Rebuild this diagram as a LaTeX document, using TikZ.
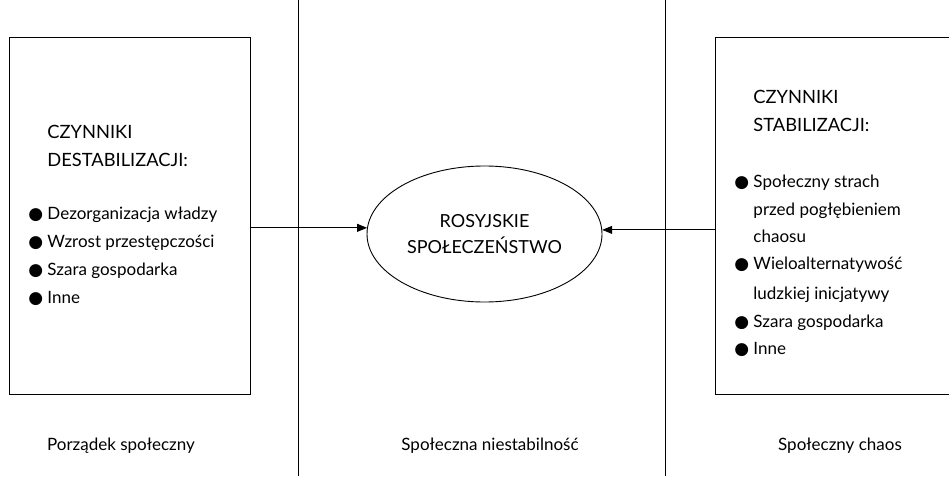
\documentclass[tikz,border=0pt]{standalone}
\usepackage{fontspec}
\setmainfont{Lato}
\newfontfamily\djv{DejaVu Sans}
\usetikzlibrary{shapes.geometric,arrows.meta}
\newcommand\bul{\makebox[19pt][l]{\djv●}}
\newcommand\ind{\hspace*{19pt}}
\begin{document}
\begin{tikzpicture}[x=1pt,y=-1pt,line width=0.9pt,
  txt/.style={font=\fontsize{17}{28}\selectfont, inner sep=0pt, anchor=mid west},
  captxt/.style={txt, font=\fontsize{18.3}{28}\selectfont},
  lbl/.style={font=\fontsize{17}{28}\selectfont, inner sep=0pt, anchor=mid},
  box/.style={draw, minimum height=357pt, anchor=north west, inner sep=0pt},
  arr/.style={-{Triangle[length=10pt,width=8pt]}}]
\useasboundingbox (0,0) rectangle (949,476);
\clip (0,0) rectangle (949,476);
% boxes
\node[box, minimum width=241pt] (lbox) at (9,37) {};
\node[box, minimum width=260pt] (rbox) at (715,37) {};
% vertical separators
\coordinate (v1t) at (298,0); \coordinate (v1b) at (298,476);
\coordinate (v2t) at (665,0); \coordinate (v2b) at (665,476);
\draw (v1t) -- (v1b);
\draw (v2t) -- (v2b);
% ellipse
\node[draw, ellipse, minimum width=235pt, minimum height=136pt, inner sep=0pt,
      align=center, font=\fontsize{18}{26}\selectfont] (ell) at (484.5,234)
      {ROSYJSKIE\\SPOŁECZEŃSTWO};
% left box text
\node[captxt] (l1) at (28,136) {\ind CZYNNIKI};
\node[captxt] (l2) at (28,164) {\ind DESTABILIZACJI:};
\node[txt] (l3) at (28,217) {\bul Dezorganizacja władzy};
\node[txt] (l4) at (28,245) {\bul Wzrost przestępczości};
\node[txt] (l5) at (28,273) {\bul Szara gospodarka};
\node[txt] (l6) at (28,301) {\bul Inne};
% right box text
\node[captxt] (r1) at (734,101) {\ind CZYNNIKI};
\node[captxt] (r2) at (734,129) {\ind STABILIZACJI:};
\node[txt] (r3) at (734,185) {\bul Społeczny strach};
\node[txt] (r4) at (734,213) {\ind przed pogłębieniem};
\node[txt] (r5) at (734,240) {\ind chaosu};
\node[txt] (r6) at (734,267) {\bul Wieloalternatywość};
\node[txt] (r7) at (734,297) {\ind ludzkiej inicjatywy};
\node[txt] (r8) at (734,325) {\bul Szara gospodarka};
\node[txt] (r9) at (734,352) {\bul Inne};
% bottom labels
\node[lbl] (b1) at (121,448) {Porządek społeczny};
\node[lbl] (b2) at (490,448) {Społeczna niestabilność};
\node[lbl] (b3) at (840,448) {Społeczny chaos};
% arrows
\draw[arr] (lbox.east |- ell.177.5) -- (ell.177.5);
\draw[arr] (rbox.west |- ell.2.5) -- (ell.2.5);
\end{tikzpicture}
\end{document}
